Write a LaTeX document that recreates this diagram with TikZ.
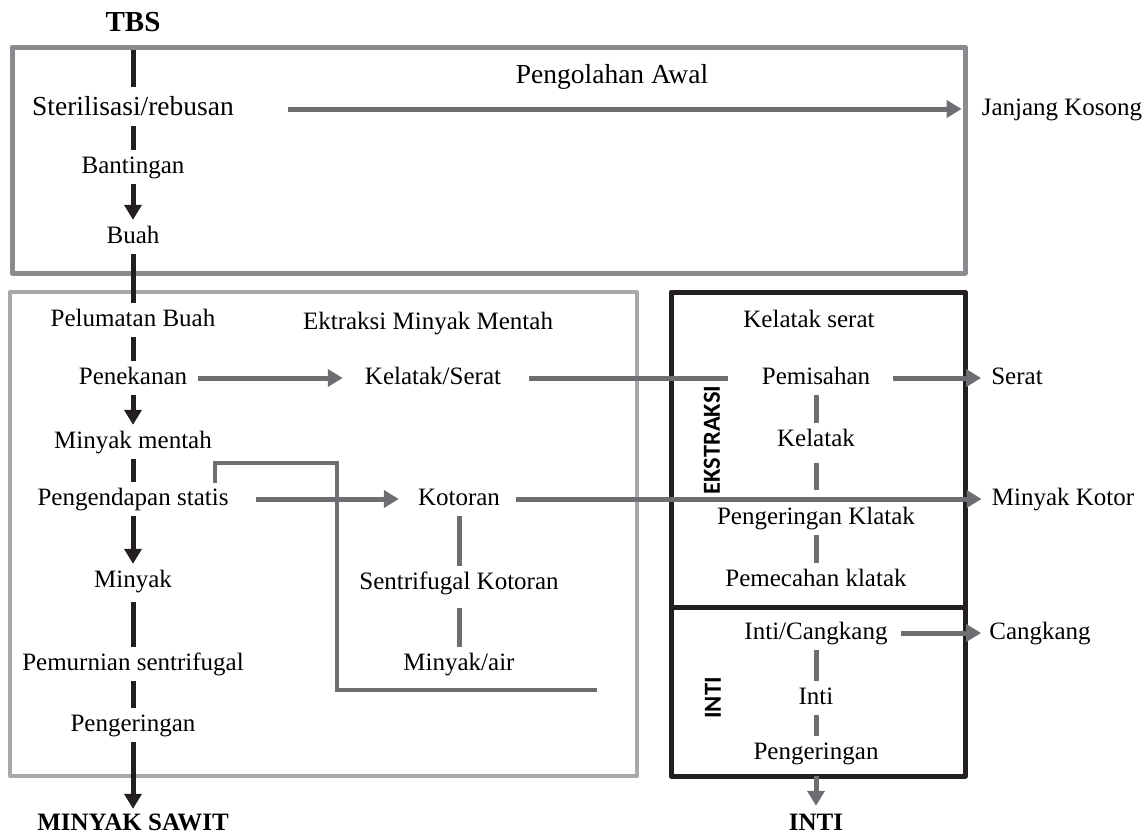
\documentclass[tikz,border=0pt]{standalone}
\usepackage{fontspec}
\setmainfont{Liberation Serif}
\newfontfamily\sidefont{Carlito}
\usetikzlibrary{arrows.meta}
\definecolor{blk}{HTML}{231F20}
\definecolor{garr}{HTML}{6D6E71}
\definecolor{boxa}{RGB}{138,139,142}
\definecolor{boxb}{RGB}{167,169,172}
\begin{document}
\begin{tikzpicture}[x=1pt,y=-1pt,
 lbl/.style={font=\fontsize{25}{30}\selectfont, inner xsep=0pt, inner ysep=6pt, text height=17pt, text depth=5pt},
 biglbl/.style={lbl, font=\fontsize{27.5}{32}\selectfont},
 boldlbl/.style={lbl, font=\fontsize{25}{30}\selectfont\bfseries},
 sidelbl/.style={font=\sidefont\bfseries\fontsize{24.5}{28}\selectfont, rotate=90, inner sep=0pt},
 mainln/.style={draw=blk, line width=5pt},
 mainarr/.style={mainln, -{Triangle[length=15pt,width=17pt]}},
 gln/.style={draw=garr, line width=5pt},
 garrow/.style={gln, -{Triangle[length=15pt,width=17pt]}},
 boxline/.style={line width=5pt, line join=round}
]
\useasboundingbox (0,0) rectangle (1145,836);

% boxes
\draw[boxline, draw=boxa] (12,47) rectangle (965,273);
\draw[boxline, draw=boxb, line width=4pt] (10,292) rectangle (637,776);
\draw[boxline, draw=blk] (671,292) rectangle (965,776);
\draw[draw=blk, line width=5pt] (671,607) -- (965,607);

% left column
\node[boldlbl, font=\fontsize{29}{32}\selectfont\bfseries] (tbs) at (133,25) {TBS};
\node[biglbl] (steril) at (133,109) {Sterilisasi/rebusan};
\node[lbl] (bant) at (133,167) {Bantingan};
\node[lbl] (buah) at (133,237) {Buah};
\node[biglbl] (awal) at (612,77) {Pengolahan Awal};
\node[lbl] (janjang) at (1062,109) {Janjang Kosong};
\node[lbl] (pelum) at (133,320) {Pelumatan Buah};
\node[lbl] (ektr) at (428,323) {Ektraksi Minyak Mentah};
\node[lbl] (penek) at (133,378) {Penekanan};
\node[lbl] (kelser) at (433,378) {Kelatak/Serat};
\node[lbl] (minment) at (133,442) {Minyak mentah};
\node[lbl] (pengend) at (133,499) {Pengendapan statis};
\node[lbl] (kotoran) at (459,499) {Kotoran};
\node[lbl] (sentkot) at (459,583) {Sentrifugal Kotoran};
\node[lbl] (minair) at (459,664) {Minyak/air};
\node[lbl] (minyak) at (133,581) {Minyak};
\node[lbl] (pemurn) at (133,664) {Pemurnian sentrifugal};
\node[lbl] (penger) at (133,725) {Pengeringan};
\node[boldlbl] (sawit) at (133,824) {MINYAK SAWIT};

% right column
\node[lbl] (kelserat) at (809,321) {Kelatak serat};
\node[lbl] (pemis) at (816,378) {Pemisahan};
\node[lbl] (serat) at (1017,378) {Serat};
\node[lbl] (kelatak) at (816,440) {Kelatak};
\node[lbl] (minkot) at (1063,499) {Minyak Kotor};
\node[lbl] (pengkl) at (816,518) {Pengeringan Klatak};
\node[lbl] (pemec) at (816,580) {Pemecahan klatak};
\node[lbl] (intic) at (816,633) {Inti/Cangkang};
\node[lbl] (cangk) at (1040,633) {Cangkang};
\node[lbl] (inti) at (816,698) {Inti};
\node[lbl] (penger2) at (816,753) {Pengeringan};
\node[boldlbl] (intiout) at (816,824) {INTI};
\node[sidelbl] (ekstr) at (712,440) {EKSTRAKSI};
\node[sidelbl] (intiside) at (713,698) {INTI};

% main black flow
\draw[mainln, shorten <=8pt, shorten >=5pt] (tbs) -- (steril);
\draw[mainln] (steril) -- (bant);
\draw[mainarr] (bant) -- (buah);
\draw[mainln] (buah) -- (pelum);
\draw[mainln] (pelum) -- (penek);
\draw[mainarr] (penek) -- (minment);
\draw[mainln] (minment) -- (pengend);
\draw[mainarr] (pengend) -- (minyak);
\draw[mainln, shorten <=4pt] (minyak) -- (pemurn);
\draw[mainln] (pemurn) -- (penger);
\draw[mainarr, shorten >=-2pt] (penger) -- (sawit);

% gray horizontal
\draw[garrow, shorten <=54pt, shorten >=20pt] (steril.east) -- (janjang.west);
\draw[garrow, shorten <=11pt, shorten >=22pt] (penek.east) -- (kelser.west);
\draw[gln, shorten <=28pt, shorten >=34pt] (kelser.east) -- (pemis.west);
\draw[garrow, shorten <=23pt, shorten >=10pt] (pemis.east) -- (serat.west);
\draw[garrow, shorten <=27pt, shorten >=19pt] (pengend.east) -- (kotoran.west);
\draw[garrow, shorten <=16pt, shorten >=10pt] (kotoran.east) -- (minkot.west);
\draw[garrow, shorten <=13pt, shorten >=8pt] (intic.east) -- (cangk.west);

% gray vertical
\draw[gln] (pemis) -- (kelatak);
\draw[gln, shorten <=6pt, shorten >=11pt] (kelatak) -- (pengkl);
\draw[gln] (pengkl) -- (pemec);
\draw[gln] (intic) -- (inti);
\draw[gln] (inti) -- (penger2);
\draw[garrow, shorten <=6pt, shorten >=1pt] (penger2) -- (intiout);
\draw[gln] (kotoran) -- (sentkot);
\draw[gln, shorten <=8pt] (sentkot) -- (minair);

% recycle bracket
\coordinate (brA) at (215,483);
\coordinate (brB) at (597,690);
\draw[gln, line width=4pt, line join=miter] (brA) |- (337,463) |- (brB);
\end{tikzpicture}
\end{document}
